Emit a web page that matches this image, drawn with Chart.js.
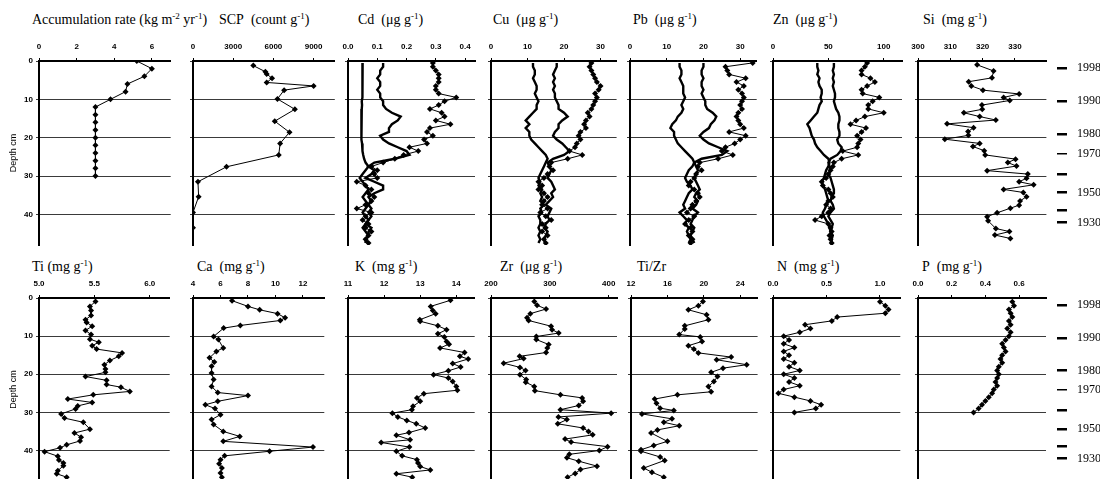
<!DOCTYPE html>
<html><head><meta charset="utf-8">
<script src="https://cdn.jsdelivr.net/npm/chart.js@4.4.1/dist/chart.umd.min.js"></script>
<style>
body{margin:0;background:#fff;width:1100px;height:479px;overflow:hidden;position:relative;font-family:"Liberation Serif","Times New Roman",serif;}
.t{position:absolute;font-size:14px;white-space:nowrap;color:#000;line-height:16px}
.t sup{font-size:9px;vertical-align:5px;line-height:0}
canvas{position:absolute}
</style></head><body>
<div class="t" style="left:32px;top:12px">Accumulation rate (kg m<sup>-2</sup> yr<sup>-1</sup>)</div>
<div class="t" style="left:219px;top:12px">SCP&nbsp; (count g<sup>-1</sup>)</div>
<div class="t" style="left:358px;top:12px">Cd&nbsp; (μg g<sup>-1</sup>)</div>
<div class="t" style="left:493px;top:12px">Cu&nbsp; (μg g<sup>-1</sup>)</div>
<div class="t" style="left:633px;top:12px">Pb&nbsp; (μg g<sup>-1</sup>)</div>
<div class="t" style="left:773px;top:12px">Zn&nbsp; (μg g<sup>-1</sup>)</div>
<div class="t" style="left:923px;top:12px">Si&nbsp; (mg g<sup>-1</sup>)</div>
<div class="t" style="left:32px;top:259px">Ti (mg g<sup>-1</sup>)</div>
<div class="t" style="left:197px;top:259px">Ca&nbsp; (mg g<sup>-1</sup>)</div>
<div class="t" style="left:355px;top:259px">K&nbsp; (mg g<sup>-1</sup>)</div>
<div class="t" style="left:500px;top:259px">Zr&nbsp; (μg g<sup>-1</sup>)</div>
<div class="t" style="left:637px;top:259px">Ti/Zr</div>
<div class="t" style="left:777px;top:259px">N&nbsp; (mg g<sup>-1</sup>)</div>
<div class="t" style="left:922px;top:259px">P&nbsp; (mg g<sup>-1</sup>)</div>
<script>
// ---------- tick labels ----------
const depthTicks = [0, 10, 20, 30, 40];
const yearDepths = [0, 9.3, 18.6, 24.1, 30, 35.2, 40.2, 43.7];
const yearLabels = ['1998', '1990', '1980', '1970', '', '1950', '', '1930'];
const yearDashWidths = [2.5, 2.5, 2.5, 1.5, 2.5, 2.5, 2.5, 2.5];

// ---------- top row data ----------
const accDepth = [0, 2, 4, 6, 8, 10, 12, 14, 16, 18, 20, 22, 24, 26, 28, 30];
const accRate = [5.2, 6.0, 5.6, 4.7, 4.6, 3.8, 3.0, 3.0, 3.0, 3.0, 3.0, 3.0, 3.0, 3.0, 3.0, 3.0];

const scpDepth = [1.2, 2.8, 3.4, 4.5, 5.6, 6.5, 7.6, 9.9, 12.6, 15.7, 18.6, 21.5, 24.5, 27.6, 31.5, 35.4, 39.5, 43.5];
const scpCount = [4500, 5400, 5500, 5900, 5500, 9000, 6800, 6300, 7600, 6100, 7200, 6500, 6400, 2500, 370, 420, 0, 0];

const metalDepth = [0.5, 1.5, 2.5, 3.5, 4.5, 5.5, 6.5, 7.5, 8.5, 9.5, 10.5, 11.5, 12.5, 13.5, 14.5, 15.5, 16.5, 17.5, 18.5, 19.5, 20.5, 21.5, 22.5, 23.5, 24.5, 25.5, 26.5, 27.5, 28.5, 29.5, 30.5, 31.5, 32.5, 33.5, 34.5, 35.5, 36.5, 37.5, 38.5, 39.5, 40.5, 41.5, 42.5, 43.5, 44.5, 45.5, 46.5, 47.5];

const cdDated = [0.29, 0.29, 0.30, 0.31, 0.31, 0.31, 0.30, 0.30, 0.31, 0.37, 0.33, 0.31, 0.28, 0.32, 0.33, 0.30, 0.35, 0.28, 0.27, 0.29, 0.26, 0.27, 0.21, 0.24, 0.19, 0.16, 0.12, 0.08, 0.10, 0.09, 0.10, 0.03, 0.06, 0.08, 0.07, 0.09, 0.08, 0.06, 0.03, 0.08, 0.06, 0.05, 0.07, 0.06, 0.08, 0.07, 0.06, 0.07];
const cdCoreA = [0.12, 0.12, 0.11, 0.11, 0.10, 0.11, 0.11, 0.10, 0.11, 0.11, 0.12, 0.12, 0.13, 0.15, 0.18, 0.17, 0.15, 0.14, 0.14, 0.11, 0.12, 0.14, 0.17, 0.20, 0.21, 0.16, 0.09, 0.07, 0.09, 0.08, 0.06, 0.09, 0.12, 0.12, 0.09, 0.07, 0.08, 0.07, 0.08, 0.07, 0.08, 0.07, 0.06, 0.08, 0.07, 0.07, 0.06, 0.07];
const cdCoreB = [0.050, 0.050, 0.051, 0.050, 0.049, 0.050, 0.049, 0.048, 0.049, 0.048, 0.047, 0.048, 0.047, 0.046, 0.046, 0.045, 0.046, 0.045, 0.046, 0.046, 0.047, 0.048, 0.049, 0.050, 0.052, 0.055, 0.060, 0.070, 0.060, 0.050, 0.040, 0.050, 0.060, 0.070, 0.060, 0.050, 0.060, 0.070, 0.060, 0.050, 0.060, 0.070, 0.060, 0.050, 0.060, 0.070, 0.060, 0.060];

const cuDated = [27.5, 27.0, 27.5, 28.0, 28.5, 29.0, 30.0, 29.5, 28.5, 29.0, 28.5, 28.0, 27.5, 26.5, 27.0, 26.0, 25.5, 26.0, 24.5, 24.0, 24.5, 23.5, 23.0, 21.5, 25.0, 21.0, 16.5, 16.0, 17.0, 15.5, 14.5, 13.0, 14.0, 13.0, 14.5, 15.5, 14.5, 14.0, 15.5, 13.5, 15.0, 16.5, 14.0, 15.0, 14.0, 15.5, 14.5, 15.0];
const cuCoreA = [18.0, 18.0, 17.5, 17.0, 17.5, 17.0, 17.5, 17.0, 17.5, 17.5, 18.0, 18.5, 18.5, 20.0, 21.0, 19.5, 18.5, 18.5, 17.5, 17.0, 18.0, 19.5, 20.5, 21.5, 20.0, 17.0, 15.5, 16.0, 16.5, 16.0, 15.5, 16.5, 17.0, 17.5, 16.5, 17.0, 16.0, 15.0, 16.5, 16.0, 15.5, 16.0, 15.0, 14.5, 15.5, 15.0, 14.5, 15.0];
const cuCoreB = [11.5, 11.5, 12.0, 12.0, 11.5, 12.0, 12.5, 12.5, 12.0, 12.5, 13.0, 12.5, 12.5, 11.5, 10.5, 9.5, 10.5, 9.5, 10.5, 10.5, 11.0, 12.0, 13.0, 14.0, 15.0, 15.5, 15.0, 14.5, 14.0, 13.5, 13.0, 13.5, 13.0, 14.0, 13.5, 14.0, 13.5, 14.5, 13.5, 14.0, 13.0, 13.5, 13.5, 13.0, 13.5, 13.0, 13.5, 13.0];

const pbDated = [33.4, 26.0, 26.5, 27.0, 31.5, 29.0, 31.0, 29.5, 30.5, 31.0, 30.5, 30.0, 30.5, 29.5, 29.0, 29.5, 30.0, 31.0, 27.0, 31.5, 30.0, 28.5, 26.0, 25.0, 28.0, 24.0, 19.0, 18.5, 19.5, 18.0, 17.5, 16.5, 16.0, 17.5, 18.5, 19.0, 18.0, 17.0, 16.5, 15.5, 17.5, 16.0, 15.0, 16.5, 17.0, 16.0, 17.0, 16.5];
const pbCoreA = [20.0, 20.0, 19.5, 19.5, 20.0, 19.5, 19.5, 20.0, 19.5, 20.0, 20.5, 20.5, 21.0, 22.5, 23.5, 23.0, 22.0, 21.5, 20.0, 19.0, 20.0, 21.5, 24.0, 26.5, 25.0, 19.5, 17.5, 18.0, 18.5, 18.0, 17.5, 18.0, 18.5, 19.0, 18.0, 17.5, 18.5, 18.0, 17.0, 18.5, 17.5, 17.0, 16.5, 17.5, 17.0, 16.5, 17.0, 17.5];
const pbCoreB = [13.5, 13.5, 14.0, 14.0, 13.5, 14.0, 14.5, 14.5, 14.5, 15.0, 14.5, 14.0, 14.5, 14.0, 13.0, 12.5, 11.5, 11.0, 12.0, 12.0, 12.5, 13.0, 14.0, 15.0, 16.0, 17.0, 17.5, 17.0, 16.0, 15.5, 15.0, 15.5, 16.5, 17.0, 16.0, 15.5, 15.0, 14.5, 15.0, 13.5, 14.5, 15.5, 15.0, 16.0, 15.5, 16.0, 16.5, 16.0];

const znDated = [85, 83, 80, 80, 88, 92, 85, 80, 81, 96, 90, 86, 86, 100, 83, 75, 70, 84, 80, 76, 79, 77, 76, 63, 77, 62, 55, 54, 52, 50, 48, 44, 45, 50, 52, 54, 50, 48, 52, 50, 44, 38, 50, 52, 53, 51, 52, 53];
const znCoreA = [55, 55, 54, 55, 54, 55, 54, 55, 56, 56, 55, 56, 57, 59, 60, 60, 59, 59, 60, 60, 58, 59, 62, 61, 58, 52, 50, 51, 52, 50, 52, 53, 54, 55, 55, 53, 52, 54, 55, 52, 50, 52, 54, 53, 52, 54, 53, 52];
const znCoreB = [40, 40, 41, 40, 42, 41, 42, 44, 44, 43, 44, 42, 41, 40, 37, 34, 31, 33, 34, 35, 37, 38, 40, 43, 46, 50, 51, 50, 48, 47, 46, 44, 45, 47, 48, 49, 50, 48, 47, 45, 46, 48, 50, 51, 52, 52, 53, 53];

const siDepth = [1, 2.6, 4.4, 5.4, 6.5, 7.6, 8.6, 9.5, 10.3, 11.5, 12.6, 13.5, 14.5, 15.4, 16.4, 17.4, 18.4, 19.4, 20.4, 21.5, 22.3, 23.4, 24.5, 25.6, 26.5, 27.4, 28.6, 29.5, 30.6, 31.5, 32.3, 33.5, 34.3, 35.4, 36.5, 37.6, 38.4, 39.6, 40.6, 41.7, 43.7, 44.5, 45.4, 46.3];
const siConc = [318.3, 323.4, 322.9, 315.7, 316.5, 320.1, 331.3, 326.5, 328.4, 319.8, 319.9, 314.2, 319.1, 324.1, 309.0, 317.2, 315.5, 315.6, 308.3, 319.1, 317.0, 320.5, 320.8, 330.2, 327.8, 330.5, 321.4, 334.0, 333.6, 331.3, 335.8, 326.5, 332.6, 333.6, 331.6, 331.3, 328.6, 324.5, 321.4, 321.7, 324.1, 328.3, 323.8, 328.6];

// ---------- bottom row data ----------
const tiDepth = [0.9, 2.2, 3.3, 4.6, 5.7, 6.4, 7.4, 8.5, 9.6, 10.8, 11.6, 12.5, 13.4, 14.4, 15.3, 16.4, 17.5, 18.6, 19.5, 20.6, 21.6, 22.7, 23.4, 24.5, 25.4, 26.5, 27.4, 28.3, 29.1, 30.4, 31.5, 32.6, 34.4, 35.4, 36.5, 37.5, 38.5, 39.3, 40.3, 41.5, 42.5, 43.3, 44.0, 45.3, 46.1, 47.0];
const tiConc = [5.51, 5.46, 5.47, 5.47, 5.42, 5.43, 5.48, 5.42, 5.47, 5.46, 5.54, 5.48, 5.52, 5.75, 5.72, 5.64, 5.59, 5.60, 5.60, 5.42, 5.61, 5.61, 5.74, 5.82, 5.49, 5.26, 5.48, 5.35, 5.33, 5.20, 5.23, 5.40, 5.46, 5.32, 5.38, 5.37, 5.25, 5.19, 5.05, 5.17, 5.18, 5.22, 5.22, 5.17, 5.16, 5.25];

const caDepth = [0.7, 2.2, 3.1, 4.1, 5.2, 5.9, 7.2, 7.9, 10.1, 10.9, 13.1, 14.0, 15.7, 16.8, 17.9, 19.7, 21.4, 23.2, 24.8, 25.6, 27.1, 28.0, 29.0, 30.6, 31.9, 33.2, 35.0, 36.3, 37.6, 39.1, 40.2, 41.4, 42.4, 43.5, 44.6, 45.9, 47.0];
const caConc = [6.84, 8.0, 8.85, 10.15, 10.7, 10.35, 7.44, 6.23, 5.5, 5.85, 6.2, 5.7, 5.2, 5.55, 5.35, 5.35, 5.5, 5.35, 5.8, 8.0, 5.8, 4.9, 5.6, 6.0, 5.35, 5.5, 6.2, 7.4, 6.2, 12.73, 9.57, 6.3, 6.0, 5.9, 6.1, 6.0, 6.1];

const kDepth = [0.6, 2.2, 3.3, 4.1, 5.7, 6.1, 7.3, 8.3, 9.4, 10.2, 11.4, 12.1, 13.1, 14.3, 15.3, 16.0, 17.2, 18.1, 19.1, 20.1, 21.0, 21.9, 23.2, 24.2, 25.1, 26.2, 27.1, 28.4, 29.3, 30.2, 31.2, 32.1, 33.0, 34.1, 35.3, 36.0, 37.2, 37.9, 39.1, 40.2, 41.4, 42.4, 43.3, 44.2, 45.1, 46.1, 47.0];
const kConc = [13.84, 13.29, 13.35, 13.43, 12.99, 13.0, 13.49, 13.73, 13.49, 13.67, 13.73, 13.8, 13.55, 14.23, 14.1, 14.33, 13.9, 14.12, 13.78, 13.37, 13.78, 13.9, 14.0, 14.03, 13.1, 12.91, 13.0, 12.8, 12.77, 12.23, 12.38, 12.63, 12.89, 13.14, 12.69, 12.34, 12.72, 11.92, 12.7, 12.34, 12.5, 12.91, 12.94, 13.0, 13.28, 12.34, 12.78];

const zrDepth = [0.9, 1.9, 2.9, 4.1, 5.2, 5.9, 7.4, 8.3, 9.2, 10.1, 10.9, 12.2, 13.1, 14.3, 15.3, 15.9, 17.1, 18.2, 19.0, 20.1, 21.4, 22.1, 23.2, 24.3, 25.4, 26.2, 27.1, 28.2, 29.3, 30.2, 31.2, 31.9, 33.0, 34.1, 35.0, 35.9, 37.0, 37.8, 39.0, 40.0, 41.0, 41.9, 42.8, 44.1, 45.0, 46.0, 47.0];
const zrConc = [273.6, 278.2, 293.5, 266.8, 261.2, 263.9, 302.0, 303.7, 315.0, 277.0, 277.0, 298.0, 295.6, 293.5, 248.6, 255.4, 221.5, 249.2, 258.7, 249.2, 259.8, 259.0, 273.5, 274.5, 317.9, 354.8, 356.5, 349.0, 317.9, 404.0, 314.5, 328.8, 313.4, 356.5, 365.6, 372.7, 325.8, 336.0, 398.0, 384.0, 333.0, 329.0, 349.0, 380.0, 352.0, 343.0, 330.0];

const tizrDepth = [0.9, 2.0, 3.1, 4.4, 5.7, 7.3, 8.1, 9.6, 10.2, 11.4, 12.5, 13.4, 14.4, 15.5, 16.2, 17.5, 18.4, 19.5, 20.6, 21.9, 23.2, 24.6, 25.4, 26.5, 27.6, 28.9, 29.5, 30.4, 31.7, 32.6, 33.5, 34.6, 35.4, 37.6, 38.7, 39.8, 40.2, 41.7, 42.6, 44.6, 45.7, 47.0];
const tizrRatio = [19.9, 19.4, 18.3, 20.3, 20.5, 17.9, 17.9, 17.3, 19.6, 19.8, 18.3, 18.9, 19.4, 23.0, 21.4, 24.7, 22.1, 20.8, 21.5, 21.1, 20.5, 20.8, 17.1, 14.6, 14.8, 15.2, 16.7, 13.2, 16.5, 15.6, 17.3, 14.9, 14.2, 16.0, 14.5, 13.1, 13.1, 15.2, 15.7, 13.4, 14.3, 15.6];

const nDepth = [1, 2, 3, 4, 5, 6, 7, 8, 9, 10, 11, 12, 13, 14, 15, 16, 17, 18, 19, 20, 21, 22, 23, 24, 25, 26, 27, 28, 29, 30];
const nConc = [1.00, 1.05, 1.08, 1.05, 0.60, 0.55, 0.30, 0.35, 0.25, 0.10, 0.15, 0.10, 0.20, 0.10, 0.15, 0.10, 0.20, 0.15, 0.25, 0.10, 0.20, 0.15, 0.25, 0.10, 0.05, 0.20, 0.35, 0.45, 0.40, 0.20];

const pDepth = [1, 2, 3, 4, 5, 6, 7, 8, 9, 10, 11, 12, 13, 14, 15, 16, 17, 18, 19, 20, 21, 22, 23, 24, 25, 26, 27, 28, 29, 30];
const pConc = [0.56, 0.57, 0.54, 0.55, 0.56, 0.54, 0.55, 0.53, 0.55, 0.54, 0.52, 0.50, 0.51, 0.52, 0.50, 0.49, 0.50, 0.48, 0.47, 0.48, 0.47, 0.46, 0.47, 0.45, 0.44, 0.42, 0.40, 0.38, 0.36, 0.33];

// ---------- helpers ----------
function pts(depths, vals) { return vals.map((v, i) => ({ x: v, y: depths[i] })); }
function marked(depths, vals) {
  return { data: pts(depths, vals), showLine: true, borderColor: '#000', borderWidth: 1,
    pointStyle: 'rectRot', pointRadius: 3, pointBackgroundColor: '#000', pointBorderColor: '#000', pointBorderWidth: 0 };
}
function plain(depths, vals) {
  return { data: pts(depths, vals), showLine: true, borderColor: '#000', borderWidth: 2.4, pointRadius: 0 };
}
const f0 = v => String(v);
const f1 = v => v.toFixed(1);
const TICKFONT = { family: 'Liberation Sans, Arial, sans-serif', size: 8, weight: 'bold' };

function panel(cfg) {
  const W = 36, H = 20, PR = 10, PB = 8;
  const plotH = 48 * cfg.pxPerCm;
  const c = document.createElement('canvas');
  const cw = W + cfg.plotW + PR, ch = H + plotH + PB;
  c.width = Math.round(cw); c.height = Math.round(ch);
  c.style.left = (cfg.axisX - W) + 'px'; c.style.top = (cfg.plotTop - H) + 'px';
  c.style.width = Math.round(cw) + 'px'; c.style.height = Math.round(ch) + 'px';
  document.body.appendChild(c);
  new Chart(c, {
    type: 'scatter',
    data: { datasets: cfg.datasets },
    options: {
      responsive: false, animation: false, devicePixelRatio: 1,
      layout: { padding: { left: 0, top: 0, right: c.width - W - cfg.plotW, bottom: PB } },
      plugins: { legend: { display: false }, tooltip: { enabled: false } },
      scales: {
        x: {
          type: 'linear', position: 'top', min: cfg.xmin, max: cfg.xmax,
          afterBuildTicks: s => { s.ticks = cfg.xticks.map(v => ({ value: v })); },
          afterFit: s => { s.height = H; },
          ticks: { font: TICKFONT, color: '#000', padding: 6, maxRotation: 0, autoSkip: false, callback: v => cfg.fmt(v) },
          grid: { drawOnChartArea: false, drawTicks: true, tickLength: 3, color: '#000', lineWidth: 1 },
          border: { display: true, color: '#000', width: 2 }
        },
        y: {
          type: 'linear', reverse: true, min: 0, max: 48,
          afterBuildTicks: s => { s.ticks = depthTicks.map(v => ({ value: v })); },
          afterFit: s => { s.width = W; },
          ticks: { display: cfg.showY, font: TICKFONT, color: '#000', padding: 3, autoSkip: false },
          grid: { drawOnChartArea: true, color: '#3a3a3a', lineWidth: 1, tickLength: 3, drawTicks: true },
          border: { display: true, color: '#000', width: 2 },
          title: { display: cfg.showY, text: 'Depth cm', color: '#000',
            font: { family: 'Liberation Sans, Arial, sans-serif', size: 9 }, padding: { top: 5, bottom: 0 } }
        }
      }
    }
  });
}

function yearAxis(plotTop, pxPerCm) {
  const PT = 10, AW = 43;
  const plotH = 48 * pxPerCm;
  const c = document.createElement('canvas');
  c.width = 50; c.height = Math.round(plotH + 2 * PT);
  c.style.left = (1056.7 - (50 - AW)) + 'px'; c.style.top = (plotTop - PT) + 'px';
  c.style.width = '50px'; c.style.height = c.height + 'px';
  document.body.appendChild(c);
  new Chart(c, {
    type: 'scatter',
    data: { datasets: [] },
    options: {
      responsive: false, animation: false, devicePixelRatio: 1,
      layout: { padding: { left: 0, right: 0, top: PT, bottom: PT } },
      plugins: { legend: { display: false }, tooltip: { enabled: false } },
      scales: {
        x: { display: false, min: 0, max: 1 },
        y: {
          position: 'right', reverse: true, min: 0, max: 48,
          afterBuildTicks: s => { s.ticks = yearDepths.map(v => ({ value: v })); },
          afterFit: s => { s.width = AW; },
          ticks: { autoSkip: false, padding: 10, color: '#000',
            font: { family: 'Liberation Serif, Times New Roman, serif', size: 12 },
            callback: (v, i) => yearLabels[i] },
          grid: { drawOnChartArea: false, drawTicks: true, tickLength: 10, color: '#000',
            lineWidth: ctx => yearDashWidths[ctx.index] || 2 },
          border: { display: false }
        }
      }
    }
  });
}

const TOP = 61, TPX = 3.83, BOT = 298.3, BPX = 3.81;

panel({ axisX: 39.3, plotTop: TOP, pxPerCm: TPX, plotW: 131.7, xmin: 0, xmax: 7, xticks: [0, 2, 4, 6], fmt: f0, showY: true,
  datasets: [marked(accDepth, accRate)] });
panel({ axisX: 192.7, plotTop: TOP, pxPerCm: TPX, plotW: 141.8, xmin: 0, xmax: 10580, xticks: [0, 3000, 6000, 9000], fmt: f0, showY: false,
  datasets: [marked(scpDepth, scpCount)] });
panel({ axisX: 348, plotTop: TOP, pxPerCm: TPX, plotW: 127, xmin: 0, xmax: 0.434, xticks: [0, 0.1, 0.2, 0.3, 0.4], fmt: f1, showY: false,
  datasets: [plain(metalDepth, cdCoreB), plain(metalDepth, cdCoreA), marked(metalDepth, cdDated)] });
panel({ axisX: 490.7, plotTop: TOP, pxPerCm: TPX, plotW: 125.6, xmin: 0, xmax: 34.4, xticks: [0, 10, 20, 30], fmt: f0, showY: false,
  datasets: [plain(metalDepth, cuCoreB), plain(metalDepth, cuCoreA), marked(metalDepth, cuDated)] });
panel({ axisX: 630, plotTop: TOP, pxPerCm: TPX, plotW: 126.7, xmin: 0, xmax: 34.5, xticks: [0, 10, 20, 30], fmt: f0, showY: false,
  datasets: [plain(metalDepth, pbCoreB), plain(metalDepth, pbCoreA), marked(metalDepth, pbDated)] });
panel({ axisX: 772.7, plotTop: TOP, pxPerCm: TPX, plotW: 129, xmin: 0, xmax: 116.5, xticks: [0, 50, 100], fmt: f0, showY: false,
  datasets: [plain(metalDepth, znCoreB), plain(metalDepth, znCoreA), marked(metalDepth, znDated)] });
panel({ axisX: 918.3, plotTop: TOP, pxPerCm: TPX, plotW: 128.4, xmin: 300, xmax: 339.75, xticks: [300, 310, 320, 330], fmt: f0, showY: false,
  datasets: [marked(siDepth, siConc)] });
yearAxis(TOP, TPX);

panel({ axisX: 39.3, plotTop: BOT, pxPerCm: BPX, plotW: 130.7, xmin: 5.0, xmax: 6.18, xticks: [5.0, 5.5, 6.0], fmt: f1, showY: true,
  datasets: [marked(tiDepth, tiConc)] });
panel({ axisX: 192.7, plotTop: BOT, pxPerCm: BPX, plotW: 131.3, xmin: 4, xmax: 13.55, xticks: [4, 6, 8, 10, 12], fmt: f0, showY: false,
  datasets: [marked(caDepth, caConc)] });
panel({ axisX: 348.3, plotTop: BOT, pxPerCm: BPX, plotW: 126.7, xmin: 11, xmax: 14.51, xticks: [11, 12, 13, 14], fmt: f0, showY: false,
  datasets: [marked(kDepth, kConc)] });
panel({ axisX: 490.7, plotTop: BOT, pxPerCm: BPX, plotW: 126, xmin: 200, xmax: 414, xticks: [200, 300, 400], fmt: f0, showY: false,
  datasets: [marked(zrDepth, zrConc)] });
panel({ axisX: 630.7, plotTop: BOT, pxPerCm: BPX, plotW: 126.6, xmin: 12, xmax: 25.9, xticks: [12, 16, 20, 24], fmt: f0, showY: false,
  datasets: [marked(tizrDepth, tizrRatio)] });
panel({ axisX: 772.7, plotTop: BOT, pxPerCm: BPX, plotW: 127.3, xmin: 0, xmax: 1.19, xticks: [0, 0.5, 1.0], fmt: f1, showY: false,
  datasets: [marked(nDepth, nConc)] });
panel({ axisX: 918.3, plotTop: BOT, pxPerCm: BPX, plotW: 128, xmin: 0, xmax: 0.76, xticks: [0, 0.2, 0.4, 0.6], fmt: f1, showY: false,
  datasets: [marked(pDepth, pConc)] });
yearAxis(BOT, BPX);
</script>
</body></html>
